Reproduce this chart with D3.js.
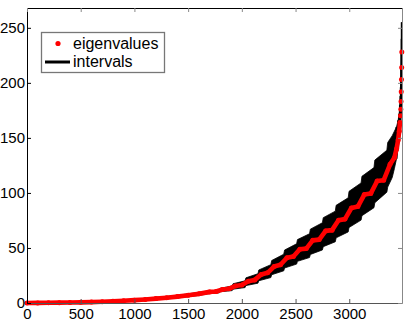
<!DOCTYPE html>
<html>
<head>
<meta charset="utf-8">
<script src="https://cdn.jsdelivr.net/npm/d3@7"></script>
<style>
  body { margin: 0; background: #fff; }
  text { font-family: "Liberation Sans", Arial, Helvetica, sans-serif; }
</style>
</head>
<body>
<script>
// eigenvalue samples (index, value)
const eigIdx = [0, 100, 200, 300, 400, 500, 600, 700, 800, 900, 1000, 1100, 1200, 1300, 1400, 1500, 1600,
  1700, 1760, 1820, 1880, 1940, 2000, 2060, 2120, 2180, 2240, 2300, 2360, 2420, 2480, 2540, 2600,
  2660, 2720, 2780, 2840, 2900, 2960, 3020, 3080, 3140, 3200, 3260, 3320, 3380,
  3420, 3440, 3455, 3465, 3472, 3477, 3480, 3482, 3484, 3486, 3488, 3489];
const eigVal = [0.05, 0.1, 0.2, 0.3, 0.45, 0.6, 0.8, 1.1, 1.5, 2.0, 2.6, 3.2, 4.0, 4.8, 5.8, 7.0, 8.3,
  10.1, 10.5, 12.3, 12.9, 15.5, 16.4, 19.7, 21.0, 25.9, 27.4, 33.1, 34.7, 41.1, 42.3, 48.9, 49.4,
  56.9, 57.6, 65.5, 66.2, 75.1, 76.2, 86.3, 87.6, 98.5, 99.4, 110.8, 111.5, 126.0,
  132, 140, 148, 156, 164, 170, 176, 183, 192, 203, 214, 228];

// interval bounds (staircase edges: value before / after each step)
const intIdx = [0, 100, 200, 300, 400, 500, 600, 700, 800, 900, 1000, 1100, 1200, 1300, 1400, 1500, 1600, 1700,
  1790, 1798, 1910, 1918, 2030, 2038, 2150, 2158, 2270, 2278, 2390, 2398, 2510, 2518, 2630, 2638,
  2750, 2758, 2870, 2878, 2990, 2998, 3110, 3118, 3230, 3238, 3350, 3358,
  3400, 3420, 3440, 3455, 3465, 3472, 3477, 3480, 3482, 3484, 3486, 3488, 3489];
const intLo = [0, 0, 0.05, 0.1, 0.2, 0.3, 0.4, 0.6, 0.9, 1.3, 1.8, 2.3, 3.0, 3.7, 4.6, 5.7, 6.9, 8.6,
  9.2, 10.2, 11.25, 12.55, 14.0, 15.8, 18.0, 20.2, 23.1, 25.7, 29.2, 31.8, 35.35, 37.85, 41.3, 44.1,
  48.2, 51.2, 55.6, 59.2, 64.6, 68.6, 75.3, 79.3, 86.55, 91.05, 100.7, 105.3,
  114, 122, 131, 140, 149, 158, 165, 172, 179, 189, 200, 211, 225];
const intHi = [0.3, 0.4, 0.45, 0.6, 0.8, 1.0, 1.3, 1.6, 2.1, 2.7, 3.4, 4.1, 5.0, 5.9, 7.0, 8.3, 9.7, 11.0,
  11.85, 13.35, 15.5, 17.5, 20.15, 22.85, 26.6, 30.0, 34.8, 38.6, 44.3, 48.1, 53.8, 57.6, 62.9, 67.1,
  72.9, 77.5, 83.45, 88.75, 95.55, 101.45, 109.1, 115.1, 123.0, 129.8, 138.8, 145.8,
  152, 156, 160, 166, 172, 180, 188, 196, 204, 214, 226, 240, 255];

const xTicks = [0, 500, 1000, 1500, 2000, 2500, 3000];
const yTicks = [0, 50, 100, 150, 200, 250];

const W = 411, H = 321;
const m = { left: 27, top: 8, right: 9, bottom: 18 };

const svg = d3.select('body').append('svg').attr('width', W).attr('height', H);

const x = d3.scaleLinear().domain([0, 3491]).range([m.left, W - m.right]);
const y = d3.scaleLinear().domain([0, 268]).range([H - m.bottom, m.top]);

const pts = eigIdx.map((v, i) => ({ i: v, v: eigVal[i] }));
const band = intIdx.map((v, i) => ({ i: v, lo: intLo[i], hi: intHi[i] }));

// intervals: filled band, plus single segments for the sparse tail
const area = d3.area().x((d) => x(d.i)).y0((d) => y(d.lo)).y1((d) => y(d.hi));
svg.append('path')
  .datum(band)
  .attr('d', area)
  .attr('fill', '#000')
  .attr('stroke', '#000')
  .attr('stroke-width', 0.8);
svg.append('g')
  .selectAll('line')
  .data(band.filter((d) => d.i >= 3440))
  .enter()
  .append('line')
  .attr('x1', (d) => x(d.i))
  .attr('x2', (d) => x(d.i))
  .attr('y1', (d) => y(d.lo))
  .attr('y2', (d) => y(d.hi))
  .attr('stroke', '#000')
  .attr('stroke-width', 2);

// eigenvalues
const line = d3.line().x((d) => x(d.i)).y((d) => y(d.v));
svg.append('path')
  .datum(pts.filter((d) => d.i <= 3472))
  .attr('d', line)
  .attr('fill', 'none')
  .attr('stroke', '#ff0000')
  .attr('stroke-width', 4.6)
  .attr('stroke-linejoin', 'round')
  .attr('stroke-linecap', 'round');
svg.append('g')
  .selectAll('circle')
  .data(pts)
  .enter()
  .append('circle')
  .attr('cx', (d) => x(d.i))
  .attr('cy', (d) => y(d.v))
  .attr('r', 2.5)
  .attr('fill', '#ff0000');

// axes (box with inward ticks)
const gx = svg.append('g')
  .attr('transform', `translate(0,${H - m.bottom})`)
  .call(d3.axisBottom(x).tickValues(xTicks).tickFormat(d3.format('d'))
    .tickSize(-4).tickSizeOuter(0).tickPadding(5));
const gy = svg.append('g')
  .attr('transform', `translate(${m.left},0)`)
  .call(d3.axisLeft(y).tickValues(yTicks).tickFormat(d3.format('d'))
    .tickSize(-4).tickSizeOuter(0).tickPadding(2));
const gt = svg.append('g')
  .attr('transform', `translate(0,${m.top})`)
  .call(d3.axisTop(x).tickValues(xTicks).tickSize(-4).tickSizeOuter(0).tickFormat(''));
const gr = svg.append('g')
  .attr('transform', `translate(${W - m.right},0)`)
  .call(d3.axisRight(y).tickValues(yTicks).tickSize(-4).tickSizeOuter(0).tickFormat(''));

[gx, gy].forEach((g) => {
  g.selectAll('text').attr('font-size', 15).attr('fill', '#000')
    .style('font-family', '"Liberation Sans", Arial, sans-serif');
});
gy.select('.domain').attr('stroke', '#000');
gt.select('.domain').attr('stroke', '#000');
gx.select('.domain').attr('stroke', '#555');
gr.select('.domain').attr('stroke', '#888');
gt.selectAll('.tick line').attr('stroke', '#888');
gr.selectAll('.tick line').attr('stroke', '#888');
gx.selectAll('.tick line').attr('stroke', '#555');

// legend
const lg = svg.append('g');
lg.append('rect')
  .attr('x', 41.5).attr('y', 32.5).attr('width', 123).attr('height', 40)
  .attr('fill', '#fff').attr('stroke', '#777').attr('stroke-width', 1.3);
lg.append('circle').attr('cx', 58).attr('cy', 43.5).attr('r', 2.6).attr('fill', '#ff0000');
lg.append('text').attr('x', 73).attr('y', 48.5).attr('font-size', 16).text('eigenvalues');
lg.append('line').attr('x1', 45).attr('x2', 70).attr('y1', 62).attr('y2', 62)
  .attr('stroke', '#000').attr('stroke-width', 3);
lg.append('text').attr('x', 73).attr('y', 67).attr('font-size', 16).text('intervals');
</script>
</body>
</html>
